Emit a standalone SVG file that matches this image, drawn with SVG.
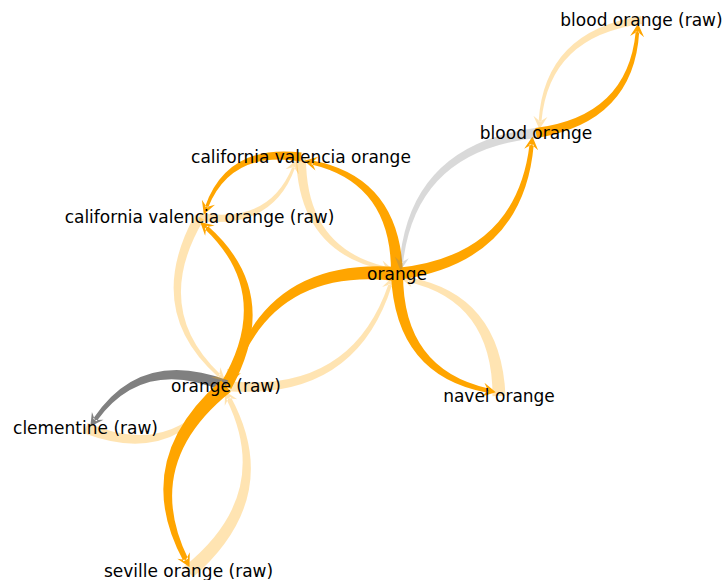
<svg xmlns="http://www.w3.org/2000/svg" width="726" height="580" viewBox="0 0 726 580">
<style>
.dk{fill:#FFA500}
.lt{fill:#FFA500;fill-opacity:0.3}
.gd{fill:#808080}
.gl{fill:#808080;fill-opacity:0.3}
text{font-family:"DejaVu Sans","Liberation Sans",sans-serif;font-size:17px;fill:#000;text-anchor:middle}
</style>
<rect width="726" height="580" fill="#fff"/>
<g id="edges">
<!-- dark edges -->
<g transform="translate(536,133) rotate(-46.97)"><path class="dk" d="M-3.12,3.90 Q74.8,64.00 144.44,6.37 L142.26,3.63 Q74.8,55.68 3.12,-3.90 Z M149.6,0 L143.82,13.59 L143.35,5 L135.08,2.65 Z"/></g>
<g transform="translate(397,274) rotate(-45.41)"><path class="dk" d="M-3.75,4.69 Q96.5,82.19 188.06,6.64 L185.44,3.36 Q96.5,72.21 3.75,-4.69 Z M193,0 L187.22,13.59 L186.75,5 L178.48,2.65 Z"/></g>
<g transform="translate(397,274) rotate(-129.37)"><path class="dk" d="M-3.75,4.69 Q73.17,63.53 141.40,6.64 L138.78,3.36 Q73.17,53.55 3.75,-4.69 Z M146.34,0 L140.56,13.59 L140.09,5 L131.82,2.65 Z"/></g>
<g transform="translate(301,157) rotate(149.41)"><path class="dk" d="M-2.81,3.51 Q56.46,48.91 107.64,6.23 L105.68,3.77 Q56.46,41.41 2.81,-3.51 Z M112.91,0 L107.13,13.59 L106.66,5 L98.39,2.65 Z"/></g>
<g transform="translate(226,386) rotate(-98.91)"><path class="dk" d="M-3.75,4.69 Q83.04,71.42 161.13,6.64 L158.51,3.36 Q83.04,61.44 3.75,-4.69 Z M166.07,0 L160.29,13.59 L159.82,5 L151.55,2.65 Z"/></g>
<g transform="translate(397,274) rotate(146.78)"><path class="dk" d="M-4.37,5.47 Q99.71,85.59 194.69,6.91 L191.63,3.09 Q99.71,73.93 4.37,-5.47 Z M199.41,0 L193.63,13.59 L193.16,5 L184.89,2.65 Z"/></g>
<g transform="translate(226,386) rotate(163.36)"><path class="gd" d="M-3.75,4.69 Q70.82,61.65 136.70,6.64 L134.08,3.36 Q70.82,51.67 3.75,-4.69 Z M141.64,0 L135.86,13.59 L135.39,5 L127.12,2.65 Z"/></g>
<g transform="translate(226,386) rotate(101.40)"><path class="dk" d="M-4.69,5.86 Q92.37,80.14 180.13,7.05 L176.85,2.95 Q92.37,67.66 4.69,-5.86 Z M184.74,0 L178.96,13.59 L178.49,5 L170.22,2.65 Z"/></g>
<g transform="translate(397,274) rotate(50.10)"><path class="dk" d="M-3.75,4.69 Q77.01,66.60 149.08,6.64 L146.46,3.36 Q77.01,56.62 3.75,-4.69 Z M154.02,0 L148.24,13.59 L147.77,5 L139.50,2.65 Z"/></g>
<!-- light edges -->
<g transform="translate(641.5,20) rotate(133.03)"><path class="lt" d="M-2.50,3.12 Q74.8,63.17 144.22,6.09 L142.48,3.91 Q74.8,56.51 2.50,-3.12 Z M149.6,0 L143.82,13.59 L143.35,5 L135.08,2.65 Z"/></g>
<g transform="translate(536,133) rotate(134.59)"><path class="gl" d="M-3.12,3.90 Q96.5,81.36 187.84,6.37 L185.66,3.63 Q96.5,73.04 3.12,-3.90 Z M193,0 L187.22,13.59 L186.75,5 L178.48,2.65 Z"/></g>
<g transform="translate(301,157) rotate(50.63)"><path class="lt" d="M-3.12,3.90 Q73.17,62.70 141.18,6.37 L139.00,3.63 Q73.17,54.38 3.12,-3.90 Z M146.34,0 L140.56,13.59 L140.09,5 L131.82,2.65 Z"/></g>
<g transform="translate(199.5,217) rotate(-30.59)"><path class="lt" d="M-2.50,3.12 Q56.46,48.49 107.53,6.09 L105.79,3.91 Q56.46,41.83 2.50,-3.12 Z M112.91,0 L107.13,13.59 L106.66,5 L98.39,2.65 Z"/></g>
<g transform="translate(199.5,217) rotate(81.09)"><path class="lt" d="M-3.12,3.90 Q83.04,70.59 160.91,6.37 L158.73,3.63 Q83.04,62.27 3.12,-3.90 Z M166.07,0 L160.29,13.59 L159.82,5 L151.55,2.65 Z"/></g>
<g transform="translate(226,386) rotate(-33.22)"><path class="lt" d="M-3.12,3.90 Q99.71,83.92 194.25,6.37 L192.07,3.63 Q99.71,75.60 3.12,-3.90 Z M199.41,0 L193.63,13.59 L193.16,5 L184.89,2.65 Z"/></g>
<g transform="translate(85.5,428) rotate(-16.64)"><path class="lt" d="M-3.44,4.29 Q70.82,61.24 136.59,6.50 L134.19,3.50 Q70.82,52.08 3.44,-4.29 Z M141.64,0 L135.86,13.59 L135.39,5 L127.12,2.65 Z"/></g>
<g transform="translate(188.5,572) rotate(-78.60)"><path class="lt" d="M-4.37,5.47 Q92.37,79.73 180.02,6.91 L176.96,3.09 Q92.37,68.07 4.37,-5.47 Z M184.74,0 L178.96,13.59 L178.49,5 L170.22,2.65 Z"/></g>
<g transform="translate(499,396) rotate(-129.90)"><path class="lt" d="M-4.06,5.08 Q77.01,67.02 149.19,6.78 L146.35,3.22 Q77.01,56.20 4.06,-5.08 Z M154.02,0 L148.24,13.59 L147.77,5 L139.50,2.65 Z"/></g>
</g>
<g id="node-blood-orange-raw"><text x="641.5" y="26">blood orange (raw)</text></g>
<g id="node-blood-orange"><text x="536" y="139">blood orange</text></g>
<g id="node-california-valencia-orange"><text x="301" y="163">california valencia orange</text></g>
<g id="node-california-valencia-orange-raw"><text x="199.5" y="223">california valencia orange (raw)</text></g>
<g id="node-orange"><text x="397" y="280">orange</text></g>
<g id="node-orange-raw"><text x="226" y="392">orange (raw)</text></g>
<g id="node-navel-orange"><text x="499" y="402">navel orange</text></g>
<g id="node-clementine-raw"><text x="85.5" y="434">clementine (raw)</text></g>
<g id="node-seville-orange-raw"><text x="188.5" y="577">seville orange (raw)</text></g>
</svg>
